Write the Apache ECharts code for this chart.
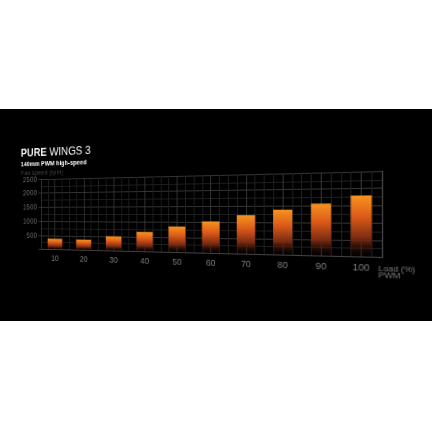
<!DOCTYPE html>
<html>
<head>
<meta charset="utf-8">
<script src="https://cdn.jsdelivr.net/npm/echarts@6/dist/echarts.min.js"></script>
<style>
html,body{margin:0;padding:0;background:#fff;width:432px;height:432px;overflow:hidden}
#panel{position:absolute;left:0;top:109px;width:432px;height:212px;background:#000;overflow:hidden}
#chart{position:absolute;left:-100px;top:0;width:632px;height:212px;
  transform-origin:316px 105px;transform:perspective(289px) rotateY(-10deg)}
</style>
</head>
<body>
<div id="panel"><div id="chart"></div></div>
<script>
// ---- data ----
const categories = ['10', '20', '30', '40', '50', '60', '70', '80', '90', '100'];
const fanSpeed = [380, 370, 500, 660, 850, 1020, 1220, 1390, 1570, 1800];
const yMin = 0, yMax = 2500, yStep = 500;
const titleBold = 'PURE';
const titleRest = 'WINGS 3';
const subtitle = '140mm PWM high-speed';
const yName = 'Fan speed (rpm)';
const xNameLine1 = 'Load (%)';
const xNameLine2 = 'PWM';

// ---- chart ----
const FONT = '"Liberation Sans", Arial, Helvetica, sans-serif';
const chart = echarts.init(document.getElementById('chart'), null, {renderer: 'svg', width: 632, height: 212});

const MAJOR = '#353535', MINOR = '#1e1e1e';

chart.setOption({
  backgroundColor: 'transparent',
  animation: false,
  grid: {left: 117, top: 66, width: 352, height: 78.5, containLabel: false},
  xAxis: [
    {
      type: 'category', data: categories, boundaryGap: true,
      axisLine: {show: true, lineStyle: {color: '#444', width: 1}},
      axisTick: {show: false},
      splitLine: {show: false},
      axisLabel: {color: '#7c7c7c', fontSize: 8.8, fontFamily: FONT, margin: 5}
    },
    {
      type: 'value', min: 0, max: 40, interval: 1, position: 'bottom',
      axisLine: {show: false}, axisTick: {show: false}, axisLabel: {show: false},
      splitLine: {show: true, lineStyle: {color: [MINOR, MINOR, MAJOR, MINOR], width: 1}}
    }
  ],
  yAxis: [
    {
      type: 'value', min: yMin, max: yMax, interval: yStep,
      axisLine: {show: true, lineStyle: {color: MAJOR}},
      axisTick: {show: true, length: 3, lineStyle: {color: MAJOR}},
      axisLabel: {color: '#646464', fontSize: 8.2, fontFamily: FONT, margin: 5,
        formatter: v => (v === 0 ? '' : String(v))},
      splitLine: {show: true, lineStyle: {color: MAJOR, width: 1}},
      minorTick: {show: false, splitNumber: 2},
      minorSplitLine: {show: true, lineStyle: {color: MINOR, width: 1}}
    },
    {
      type: 'value', min: yMin, max: yMax, interval: yStep, position: 'right',
      axisLine: {show: true, lineStyle: {color: '#444'}},
      axisTick: {show: false}, axisLabel: {show: false}, splitLine: {show: false}
    }
  ],
  series: [{
    type: 'bar',
    xAxisIndex: 0, yAxisIndex: 0,
    data: fanSpeed,
    barWidth: 18,
    itemStyle: {
      color: new echarts.graphic.LinearGradient(0, 0, 0, 1, [
        {offset: 0, color: '#f7931f'},
        {offset: 0.35, color: '#dc5a19'},
        {offset: 0.7, color: '#7a2a12'},
        {offset: 1, color: 'rgba(20,6,2,0.1)'}
      ])
    }
  }],
  graphic: [
    {type: 'text', left: 91, top: 30, style: {
      text: '{b|' + titleBold + '} {r|' + titleRest + '}',
      rich: {
        b: {fontFamily: FONT, fontSize: 12, fontWeight: 'bold', fill: '#fff'},
        r: {fontFamily: FONT, fontSize: 12, fontWeight: 'normal', fill: '#fff'}
      }
    }},
    {type: 'text', x: 91, y: 48.5, style: {text: subtitle, fontFamily: FONT, fontSize: 7, fontWeight: 'bold', fill: '#fff', verticalAlign: 'middle', align: 'left'}},
    {type: 'text', x: 91, y: 58.5, style: {text: yName, fontFamily: FONT, fontSize: 7.3, fill: '#454545', verticalAlign: 'middle', align: 'left'}},
    {type: 'text', x: 466, y: 154.5, style: {text: xNameLine1, fontFamily: FONT, fontSize: 7.5, fill: '#7c7c7c', verticalAlign: 'middle', align: 'left'}},
    {type: 'text', x: 466, y: 160.5, style: {text: xNameLine2, fontFamily: FONT, fontSize: 7.5, fill: '#7c7c7c', verticalAlign: 'middle', align: 'left'}}
  ]
});
</script>
</body>
</html>
